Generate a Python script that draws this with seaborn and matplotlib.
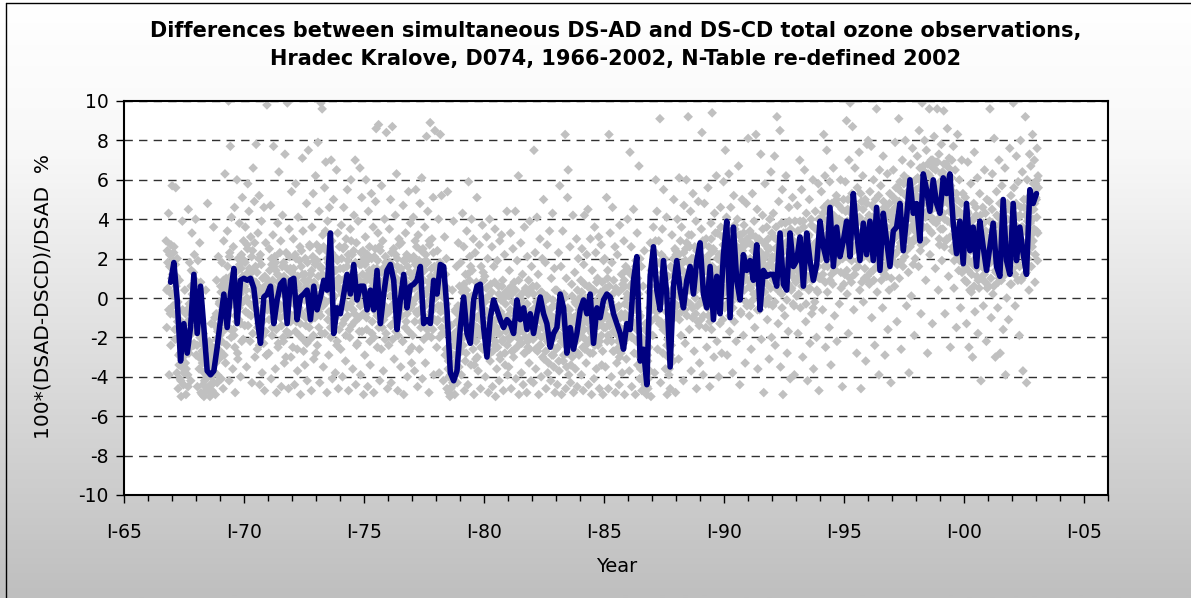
import numpy as np
import pandas as pd
import matplotlib
matplotlib.use("Agg")
import matplotlib.pyplot as plt
import seaborn as sns
from matplotlib.ticker import MultipleLocator
from matplotlib.colors import LinearSegmentedColormap
from matplotlib.lines import Line2D

# ------------------------------------------------------------------ texts
title_line1 = "Differences between simultaneous DS-AD and DS-CD total ozone observations,"
title_line2 = "Hradec Kralove, D074, 1966-2002, N-Table re-defined 2002"
x_label = "Year"
y_label = "100*(DSAD-DSCD)/DSAD  %"
x_tick_years = [1965, 1970, 1975, 1980, 1985, 1990, 1995, 2000, 2005]
x_tick_labels = ["I-65", "I-70", "I-75", "I-80", "I-85", "I-90", "I-95", "I-00", "I-05"]
y_ticks = [-10, -8, -6, -4, -2, 0, 2, 4, 6, 8, 10]

# ------------------------------------------------------------------ running mean (blue line)
line_start = 1966.94      # first sample (decimal year)
line_step = 0.13877       # sampling interval in years (~51 days)
line_vals = [
    0.8, 1.8, -0.1, -3.2, -1.3, -2.8, -1.5, 1.2, -1.8, 0.6,
    -1.5, -3.7, -3.9, -3.7, -2.5, -1.1, 0.2, -1.5, 0.2, 1.5,
    -1.3, 0.9, 1.0, 0.9, 1.0, 0.5, -1.0, -2.3, 0.05, 0.2,
    0.6, -1.3, -0.1, 0.7, 0.9, -1.3, 0.9, 1.0, -1.1, 0.05,
    0.2, 0.4, -1.1, 0.6, -0.6, 0.05, 0.9, 0.4, 3.3, -1.8,
    -0.5, -0.8, 0.2, 1.2, 0.2, 1.7, -0.1, 0.6, 0.6, -0.6,
    0.4, -0.6, 1.4, -1.3, 0.2, 1.4, 1.7, 0.9, -1.6, -0.1,
    1.2, -0.5, 0.6, 0.7, 0.9, 1.6, -1.3, -1.1, -1.3, 0.9,
    0.2, 1.7, 1.6, -0.6, -3.8, -4.2, -3.7, -1.5, 0.05, -1.8,
    -2.3, -0.1, 0.6, 0.7, -1.5, -3.0, -1.0, -0.1, -0.6, -1.1,
    -1.5, -1.1, -1.3, -1.8, -0.1, -1.1, -0.5, -1.6, -0.8, -1.8,
    -0.8, 0.05, -0.8, -1.3, -2.5, -1.8, -1.5, 0.2, -0.5, -2.8,
    -1.5, -2.6, -1.8, -0.6, -0.1, -0.8, 0.2, -2.3, -0.5, -1.0,
    -0.1, 0.2, 0.05, -0.8, -1.3, -1.8, -2.6, -1.3, -1.6, 0.9,
    2.1, -3.2, -2.6, -4.4, 1.1, 2.6, 0.4, -0.6, 1.9, 0.2,
    -3.5, 0.6, 1.9, 0.4, -0.5, 0.9, 1.6, 0.2, 1.9, 2.8,
    0.2, -0.5, 1.6, -1.1, 1.1, -0.8, 2.2, 3.9, -1.0, 3.6,
    0.9, -0.1, 2.2, 1.4, 1.9, 0.9, 2.7, -0.6, 1.4, 1.1,
    1.2, 1.2, 0.6, 3.3, 0.7, 0.4, 3.3, 1.6, 1.9, 3.1,
    0.6, 3.3, 1.9, 0.9, 1.7, 3.9, 2.6, 1.9, 4.6, 1.6,
    3.6, 2.1, 2.9, 3.9, 2.1, 5.3, 3.3, 1.9, 3.8, 2.2,
    3.9, 1.9, 4.6, 1.4, 4.3, 2.9, 1.6, 3.4, 3.6, 4.8,
    2.4, 4.1, 6.0, 4.3, 4.8, 2.9, 6.3, 5.5, 4.4, 6.0,
    4.8, 4.3, 6.1, 5.3, 6.3, 3.8, 2.25, 3.9, 1.74, 4.8,
    2.4, 3.6, 1.6, 3.9, 2.6, 1.4, 2.6, 3.8, 1.6, 1.1,
    5.0, 1.9, 1.2, 4.8, 1.9, 3.6, 2.25, 1.2, 5.5, 4.8,
    5.3,
]

# ------------------------------------------------------------------ individual observations (grey diamonds)
# first series of readings per observing period, in time order
obs_1966 = [2.9, -1.5, 2.4, 0.5, 4.3, -3.9, 1.6, -0.8, 2.7, 0.2]
obs_1967 = [5.7, 1.9, -0.8, 2.6, 0.3, -2.1, 5.6, 1.1,
            -3.8, -1.2, -4.6, -2.9, 0.9, -4.1, -2.2, -5.0, -3.5, 3.9,
            -1.4, -4.4, -2.6, 0.4, -3.3, -4.9, -1.9, -0.6, -3.9, 4.5,
            -2.8, 1.8, -0.3, -4.2, 1.4, 3.3, -1.6, 0.6, -2.4, 2.2, -0.9, 4.0]
obs_1968 = [-2.9, 0.8, -4.5, 1.9, -1.7, -3.6, 2.8, -0.4, -4.8, -2.3,
            -4.9, -3.1, -1.8, -5.0, -4.2, -2.6, 0.4, -4.7, -3.4, 4.8,
            -4.6, -3.9, -2.2, -5.0, -4.4, -1.3, -3.2, -4.8, -2.7, 3.6,
            -3.8, -1.0, -4.9, -2.5, 0.9, -4.3, -1.7, 2.1, -3.1, -0.2]
obs_1969 = [-2.7, 0.6, -4.1, 1.8, -1.2, -4.6, 2.9, -0.5, 6.3, -3.3,
            1.0, -2.4, 3.4, -0.9, 10.0, -4.2, 2.3, 7.7, -1.6, 4.1,
            0.2, -3.6, 2.6, -1.9, 4.6, -4.8, 1.3, -0.4, 6.0, -2.8,
            2.0, -1.1, 3.8, 0.7, -4.0, 1.5, -2.2, 5.1, -0.2, 2.9]
obs_1970 = [1.9, -1.4, 3.6, 0.4, -3.5, 2.7, 5.8, -0.8, 4.4, 1.2,
            -2.2, 3.1, 0.8, -4.3, 2.4, 6.6, -0.5, 4.9, -3.0, 1.6,
            7.8, 0.1, -2.6, 3.3, -1.3, 5.2, -4.4, 2.2, -0.7, 3.9,
            -3.8, 1.0, -1.9, 4.6, -4.7, 0.6, 2.8, -2.9, 9.8, -0.3]
obs_1971 = [0.9, -2.8, 2.5, -0.6, 4.7, -4.1, 1.7, -1.5, 3.2, 7.7,
            -0.2, 2.1, -3.6, 1.4, -4.8, 0.3, 3.8, -2.3, 6.4, 1.1,
            -1.0, 2.9, -4.5, 0.5, 4.2, -2.0, 1.8, -3.3, 7.3, -0.4,
            2.3, -1.7, 9.9, 0.8, -4.6, 3.5, -0.9, 1.5, -3.0, 5.4]
obs_1972 = [1.3, -2.5, 3.0, -0.3, -4.4, 2.2, 5.8, -1.2, 0.7, -3.7,
            4.1, 0.0, -1.9, 2.6, -4.9, 1.6, -0.8, 7.1, 3.4, -2.7,
            0.9, -3.4, 2.0, -1.4, 4.8, -4.2, 0.4, 7.5, -0.6, 2.7,
            -2.1, 1.2, -4.7, 3.6, -0.1, 5.3, -3.1, 1.9, -1.0, 6.2]
obs_1973 = [0.2, 2.7, -2.4, 7.9, -0.7, 4.4, -4.3, 1.6, 9.9, -1.8,
            9.6, 3.2, -3.5, 1.0, 5.6, -0.2, 6.9, 2.4, -4.8, 3.9,
            1.8, -2.9, 4.6, 0.3, -1.5, 7.0, 2.9, -4.1, 0.8, 5.0,
            -0.9, 2.1, -3.8, 1.4, 6.5, -2.2, 3.3, -4.6, 0.5, 2.6]
obs_1974 = [1.5, -2.6, 3.7, 0.2, -4.0, 2.5, 4.6, -1.1, 1.0, -3.2,
            3.0, -0.5, 5.5, 1.9, -4.7, 0.6, -2.0, 3.5, 6.0, -1.4,
            2.2, -3.6, 1.3, 4.2, -0.8, 7.0, -4.4, 2.8, 0.4, -2.3,
            3.9, 0.9, -1.7, 6.6, -3.9, 1.7, 5.1, -0.3, 2.4, -4.9]
obs_1975 = [0.8, -2.9, 3.1, 6.0, -1.0, 1.9, -4.5, 4.4, -0.2, 2.6,
            -3.4, 1.2, 5.3, -1.8, 0.3, 3.6, -4.8, 2.1, -0.6, 4.9,
            8.6, 1.5, -2.5, 3.3, 8.8, -0.4, -4.2, 2.4, 0.6, 5.7,
            -1.5, 2.9, -3.7, 0.9, 4.0, -2.1, 1.8, 8.4, -0.8, -4.6]
obs_1976 = [1.1, -2.4, 3.5, -0.5, 5.0, -4.3, 1.7, 8.7, -1.3, 2.5,
            -3.1, 0.4, 4.2, -1.7, 6.3, 2.0, -4.7, 0.9, 3.0, -0.8,
            1.4, -3.5, 2.8, 0.1, -2.2, 4.7, -4.9, 1.9, -0.4, 3.3,
            -1.2, 2.2, -4.0, 0.7, 5.4, -2.7, 1.3, 3.8, -0.1, -3.3]
obs_1977 = [2.0, -1.9, 4.1, 0.6, -3.7, 2.9, 5.5, -0.7, 1.4, -4.5,
            3.2, 0.2, -2.6, 4.8, 1.7, -1.2, 6.1, -4.1, 2.5, 0.9,
            -0.3, 3.6, -3.3, 1.9, 8.2, -1.6, 4.4, 0.5, -4.8, 2.7,
            8.9, 1.1, -2.0, 3.0, -0.6, 5.1, -3.9, 1.6, 8.5, 0.0]
obs_1978 = [0.3, -2.5, 2.4, -1.1, 4.0, -3.8, 1.2, 8.3, -0.4, 5.2,
            -1.8, 1.5, -4.2, 0.0, 3.1, -2.9, -0.7, 2.0, -4.6, 5.4,
            -3.6, -4.8, -2.7, -5.0, -3.9, -1.4, -4.5, 0.4, -4.1, 3.9,
            -2.4, -4.9, -0.6, -3.2, 1.6, -4.3, -1.7, 2.8, -3.5, 0.6]
obs_1979 = [-1.4, 1.8, -3.9, 0.5, 4.3, -2.4, 2.6, -4.7, -0.3, 1.2,
            -2.8, 3.4, 0.1, -4.4, 5.9, -1.6, 2.1, -0.8, -3.4, 4.0,
            1.4, -2.1, 3.0, -4.9, -0.4, 2.3, -3.1, 0.8, 5.1, -1.5,
            -3.7, 0.2, 2.7, -1.9, -4.6, 1.6, -0.6, 3.7, -2.6, 0.9]
obs_1980 = [-1.9, 1.1, -4.0, 0.0, 3.1, -2.7, 2.0, -4.8, -0.8, 4.0,
            -3.2, 0.7, -1.3, 2.6, -4.5, -0.2, 1.6, -2.4, 3.5, -5.0,
            -0.5, -3.6, 1.9, -1.8, 0.6, -4.2, 2.9, -2.9, -0.1, 3.2,
            -2.2, 0.9, -4.7, -1.1, 2.2, -3.4, 0.3, -1.6, 4.4, -3.9]
obs_1981 = [-0.9, -3.5, 1.4, -2.1, 3.3, -4.6, 0.2, -1.4, 2.5, -3.0,
            0.8, -2.6, 4.4, -4.1, -0.6, 1.9, -1.8, 6.2, -4.9, 0.1,
            -2.3, 2.8, -3.8, -0.3, 1.2, -4.4, -1.6, 3.6, -2.8, 0.5,
            -1.1, -4.8, 2.1, -2.5, 0.9, -3.3, 3.9, -0.7, -4.2, 1.6]
obs_1982 = [-2.0, 0.6, -4.3, 7.5, -1.2, 2.3, -3.6, -0.2, 4.1, -2.7,
            1.2, -4.9, -0.9, 3.0, -2.4, -4.0, 0.3, 2.0, -1.5, 5.0,
            -3.1, -0.5, 1.8, -4.6, -1.9, 2.7, -3.8, 0.0, -2.3, 3.4,
            -1.0, -4.2, 1.0, -2.9, 4.3, -0.4, -3.5, 1.5, -4.8, -1.7]
obs_1983 = [-2.6, 0.4, -4.4, -1.3, 2.3, -3.7, 5.7, -0.6, 1.6, -4.9,
            -2.0, 3.4, -3.2, 0.2, -1.6, 8.3, -4.6, 1.0, -2.8, 5.1,
            6.5, -3.9, -0.9, 2.6, -4.3, -1.9, 0.7, -3.0, 4.2, -4.8,
            -2.3, 1.3, -3.6, -0.3, 3.0, -4.5, -1.2, 2.0, -2.9, 0.0]
obs_1984 = [-1.8, 0.9, -3.9, 2.5, -0.7, -4.7, 1.7, 4.2, -2.6, 0.0,
            -3.3, 2.2, -1.2, 4.5, -4.4, 0.6, -2.1, 3.0, -0.3, -4.9,
            1.4, -2.8, 0.3, -4.1, 3.6, -1.5, 2.3, -3.6, -0.6, 1.0,
            -2.4, 3.1, -4.6, 0.1, -1.3, 2.7, -3.4, 0.8, -4.9, 1.9]
obs_1985 = [-0.9, 2.0, -3.5, 0.5, 5.1, -2.2, 1.4, -4.6, 8.3, -1.4,
            3.3, -0.2, -4.0, 1.8, 4.6, -2.7, 0.9, -1.7, 2.6, -4.8,
            -0.5, -3.3, 2.2, -1.9, 0.3, -4.4, 3.7, -1.0, -2.8, 1.2,
            -3.8, 0.7, -2.3, 2.9, -4.9, -0.8, 1.6, -3.1, 0.0, 4.0]
obs_1986 = [-1.3, 1.4, -3.7, 7.4, -0.4, 2.6, -4.5, -2.0, 0.5, 4.5,
            -2.8, 0.2, -4.9, 1.9, -1.6, 3.3, -3.4, -0.7, 6.7, -4.1,
            -0.9, -3.6, 1.6, -4.7, -2.2, 0.6, -3.0, 2.4, -4.4, -1.3,
            -4.0, -4.9, -2.9, -4.6, -1.8, 0.3, -3.7, 2.8, -5.0, -0.6]
obs_1987 = [1.2, -1.9, 3.6, 0.0, -3.8, 2.3, 6.0, -0.7, 4.4, -2.6,
            0.7, 2.9, -1.3, 9.1, -4.3, 1.7, -0.2, 3.5, -2.8, 5.5,
            -1.5, 2.0, -3.6, 0.4, 4.1, -4.9, -2.1, 1.1, -3.9, -0.8,
            -4.6, 1.6, -2.4, 3.2, 0.3, -3.2, 5.0, -1.0, 2.5, -4.8]
obs_1988 = [2.2, -0.8, 4.0, 1.0, -3.1, 6.1, 0.2, 2.9, -1.9, 3.6,
            -0.3, 1.8, -4.2, 4.7, 0.8, -2.3, 2.5, 6.0, -0.9, 1.3,
            9.2, 3.2, -1.6, 0.5, 4.4, -3.7, 2.0, -0.5, 5.3, 1.1,
            -2.7, 2.6, 0.0, 3.9, -4.6, 1.7, -1.2, 4.9, 0.6, -3.3]
obs_1989 = [1.9, -1.1, 3.5, 8.4, 0.4, -3.9, 2.7, 4.8, -0.3, 1.4,
            3.0, -2.5, 0.9, 5.6, -0.9, 2.2, -4.5, 1.6, 3.8, -1.6,
            9.4, 0.1, 2.5, -3.0, 4.3, 1.2, -0.6, 6.2, -2.2, 3.3,
            0.6, -4.0, 2.0, -1.3, 4.6, 1.0, -2.8, 3.1, 0.2, 5.9]
obs_1990 = [2.4, -0.5, 7.5, 1.3, 4.1, -2.9, 3.0, 0.3, 6.3, -1.7,
            1.9, 4.6, -0.2, 2.8, -3.8, 1.0, 5.2, -1.2, 3.5, 0.6,
            -2.2, 2.2, 4.0, 0.0, 6.7, 1.6, -4.4, 3.2, -0.8, 2.6,
            5.0, 0.8, -1.9, 3.7, 1.2, -3.3, 2.0, 4.8, -0.4, 1.5]
obs_1991 = [8.1, 1.8, -0.9, 3.4, 0.5, -2.6, 2.7, 5.3, -0.1, 1.1,
            3.9, -1.5, 2.3, 8.3, 0.2, 4.5, -3.6, 1.6, 3.0, -0.6,
            2.0, 7.3, -2.1, 0.9, 4.2, 1.4, -4.8, 2.8, 5.8, -0.3,
            1.2, 3.6, -1.1, 2.5, 0.0, -3.1, 4.0, 1.7, 6.4, -2.0]
obs_1992 = [2.1, -0.4, 4.3, 1.0, 7.2, -2.4, 3.0, 0.5, 9.2, 2.6,
            -1.3, 4.9, 1.5, 8.5, -3.5, 2.4, 0.2, 5.5, -4.9, 3.3,
            1.7, -0.9, 3.8, 6.2, 0.8, -2.8, 2.9, -1.7, 4.6, 1.2,
            -4.1, 3.5, 0.4, 2.2, 5.1, -0.3, 1.4, -3.9, 3.9, 0.9]
obs_1993 = [2.8, 0.1, 4.7, -1.8, 3.4, 1.3, 7.0, -0.5, 2.2, 5.5,
            1.0, -3.0, 3.9, 0.6, 6.5, 2.5, -1.2, 4.3, 1.8, -4.2,
            3.1, 0.4, 5.0, -2.3, 2.0, 4.0, -0.8, 1.5, 6.0, -3.6,
            2.7, -0.2, 4.4, 1.2, -2.0, 3.5, 0.3, 5.8, -4.7, 2.4]
obs_1994 = [3.5, 1.0, 5.4, 2.2, -0.6, 4.3, 8.3, 1.6, 6.2, -2.5,
            2.9, 7.5, 0.3, 4.8, 2.0, -1.5, 5.9, 3.2, -3.4, 1.2,
            4.1, 0.7, 6.6, 2.5, -0.9, 3.6, 1.4, 5.2, -2.2, 3.0,
            1.9, 4.7, -0.3, 2.7, 6.0, 0.5, 3.9, -4.5, 2.3, 5.0]
obs_1995 = [3.8, 1.2, 5.9, 2.6, 9.0, 0.2, 4.5, -1.8, 7.0, 2.0,
            9.9, 3.1, 0.8, 5.3, 8.7, 2.4, -0.6, 4.2, 6.6, 1.5,
            3.4, -2.8, 5.6, 1.9, 4.0, 7.4, 0.4, 2.9, -4.6, 4.9,
            2.2, 6.2, -0.2, 3.7, 1.0, 5.0, -3.2, 2.6, 7.8, 0.9]
obs_1996 = [8.0, 3.0, 0.7, 5.4, 2.1, 7.7, -1.0, 4.1, 1.4, 6.0,
            3.6, -2.4, 5.0, 2.5, 9.6, 0.3, 4.4, 1.8, -3.9, 6.5,
            2.8, 5.7, 0.9, 3.9, -0.5, 7.2, 2.2, 4.6, -2.9, 1.5,
            4.2, 1.1, 6.3, -1.6, 3.1, 0.4, 5.3, 2.4, -4.3, 3.6]
obs_1997 = [4.4, 1.9, 6.5, 3.0, 0.6, 7.9, 4.9, 2.3, -1.2, 5.6,
            3.5, 9.1, 1.0, 5.9, 2.8, -2.6, 4.6, 7.0, 1.6, 3.9,
            6.2, 2.1, 8.0, 4.3, -0.4, 3.3, 5.4, 1.3, -3.8, 4.8,
            2.6, 6.8, 0.1, 4.0, 7.6, 1.7, 5.1, -1.9, 3.4, 6.0]
obs_1998 = [5.5, 3.0, 7.2, 4.4, 1.6, 8.5, 6.0, 2.4, -0.8, 5.0,
            9.9, 4.1, 6.7, 2.9, 8.0, 5.3, 0.9, 7.5, 3.6, -2.8,
            6.3, 4.7, 9.6, 2.2, 5.8, 7.0, 3.3, -1.3, 6.6, 4.0,
            8.2, 5.1, 1.5, 6.9, 3.9, 9.6, 4.6, 0.4, 7.3, 2.7]
obs_1999 = [5.9, 3.5, 7.8, 1.9, 6.4, 4.3, 9.5, 2.6, -0.8, 5.2,
            6.8, 3.0, 8.6, 4.8, 1.1, 7.1, 5.6, -2.5, 3.8, 6.1,
            2.4, 5.4, 7.7, 0.5, 4.6, 6.5, 3.2, -1.5, 5.0, 8.3,
            3.7, 1.4, 6.0, 2.8, -0.5, 4.2, 7.0, 1.9, 5.3, 3.0]
obs_2000 = [3.2, 0.9, 5.1, 2.0, -1.3, 4.4, 6.9, 1.4, -2.5, 3.6,
            2.5, 5.8, 0.3, 3.9, -3.0, 1.7, 4.8, 7.4, -0.7, 2.9,
            4.2, 1.1, 6.1, -1.8, 3.0, 0.5, 5.3, 2.2, -4.2, 3.7,
            1.6, 4.6, -0.4, 2.7, 6.5, 0.8, 3.4, -2.2, 5.0, 2.1]
obs_2001 = [2.9, 0.6, 4.9, 9.6, 1.8, -1.0, 3.8, 6.3, 0.2, 2.4,
            8.1, 3.3, -3.0, 1.3, 5.4, 2.6, -0.5, 4.1, 7.0, 1.0,
            -2.8, 3.6, 0.9, 5.7, 2.0, -1.6, 4.4, 1.5, 6.6, -3.9,
            2.7, 0.0, 4.8, 1.9, -1.1, 3.5, 7.6, 0.7, 5.2, 2.3]
obs_2002 = [3.9, 1.5, 9.9, 5.6, 2.5, -0.4, 4.7, 7.2, 1.8, 3.1,
            5.9, 2.2, -1.9, 4.2, 8.0, 0.9, 3.6, 6.4, -3.7, 2.8,
            4.6, 1.2, 9.2, 3.4, -4.3, 6.0, 2.0, 5.1, 0.4, 7.3,
            3.8, 6.7, 1.6, 5.3, 8.3, 2.9, 4.5, 7.0, 0.8, 5.8]
obs_2003 = [5.5, 3.4, 7.6, 1.9, 6.2]

# second series of readings (the dense core of the cloud), in time order
core_1966 = [0.4, 1.8, -0.6, 2.2, -2.4, 1.0]
core_1967 = [1.2, -0.4, 2.3, 0.1, -1.6, 1.7, 0.6, -0.9, 2.0, -0.2,
             -2.0, -3.4, -1.1, -2.8, -4.2, -1.8, -3.0, -0.6, -2.5, -3.8,
             -1.6, -2.9, -0.8, -3.6, -2.2, -1.2, -4.5, -2.6, -0.3, -1.9,
             -0.7, 0.6, -1.8, 0.2, -1.1, 1.3, -2.3, -0.4, 0.9, -1.5]
core_1968 = [-1.2, -2.4, 0.2, -1.7, -3.0, -0.5, -2.0, 0.8, -1.4, -2.7,
             -3.3, -4.4, -2.7, -3.8, -4.8, -3.0, -4.1, -2.4, -3.6, -4.6,
             -3.9, -3.2, -4.5, -2.9, -4.0, -3.5, -4.7, -2.5, -3.7, -4.3,
             -2.6, -1.4, -3.3, -0.8, -2.1, -3.9, -1.6, -2.9, -0.3, -1.9]
core_1969 = [-1.0, 0.3, -2.2, -0.6, -1.7, 0.9, -2.9, -0.2, -1.3, 0.5,
             0.7, -0.8, 1.6, -1.5, 0.2, 2.1, -0.4, 1.1, -2.0, 0.9,
             -0.3, 1.0, -1.6, 0.4, -2.5, -0.9, 1.4, -1.2, 0.1, -3.1,
             0.8, -0.5, 1.7, 0.2, -1.3, 2.2, -0.2, 1.1, -2.1, 0.5]
core_1970 = [0.6, 1.8, -0.7, 1.2, 0.0, 2.5, -1.4, 0.9, 1.5, -0.3,
             1.0, -0.9, 2.1, 0.4, -1.8, 1.4, 0.1, 2.8, -0.5, 0.8,
             -0.2, 1.3, -1.5, 0.6, 2.0, -2.4, 0.3, -0.8, 1.7, -1.1,
             -1.2, 0.5, -2.3, -0.4, 1.1, -1.7, 0.2, -2.9, -0.6, 0.9]
core_1971 = [0.2, -1.1, 1.4, 0.7, -0.4, 2.0, -1.9, 0.9, -0.1, 1.6,
             0.5, -0.8, 1.8, -1.6, 0.1, 1.2, -2.5, 0.8, -0.3, 2.3,
             -0.6, 0.9, -1.4, 1.6, 0.2, -2.2, 1.1, -0.9, 0.6, -3.0,
             0.4, 1.5, -0.7, 0.9, -1.8, 2.1, 0.0, -1.2, 1.3, -0.2]
core_1972 = [0.3, -0.9, 1.5, -0.2, 0.9, -1.7, 2.0, 0.1, -2.6, 1.1,
             0.7, -0.5, 1.9, -1.3, 0.4, 2.4, -0.8, 1.2, -2.1, 0.0,
             -0.1, 1.2, -1.0, 0.6, -2.3, 1.8, -0.6, 0.9, -1.5, 2.6,
             0.5, -1.1, 1.4, -0.3, 2.1, -1.9, 0.8, -0.7, 1.7, -2.8]
core_1973 = [0.6, 1.9, -0.6, 1.1, -1.5, 2.4, 0.2, -0.9, 1.5, 0.0,
             1.2, -0.4, 2.6, 0.5, -1.8, 3.4, 1.0, -0.2, 2.0, -1.1,
             0.8, -0.7, 1.7, 0.3, -2.0, 2.3, -0.1, 1.3, -1.3, 0.6,
             0.1, 1.4, -1.0, 0.7, -2.4, 1.9, -0.5, 1.0, -1.6, 0.4]
core_1974 = [0.9, -0.5, 2.0, 0.3, -1.3, 1.5, -0.2, 2.6, 0.6, -1.9,
             0.2, 1.6, -0.9, 2.2, 0.7, -1.6, 1.1, -0.3, 2.9, 0.4,
             1.3, -0.6, 2.4, 0.0, -1.2, 1.8, 0.5, -2.4, 1.0, -0.1,
             0.8, -1.0, 1.7, -0.4, 2.3, 0.2, -1.7, 1.2, -0.8, 2.0]
core_1975 = [0.4, 1.7, -0.8, 1.1, -1.6, 2.2, 0.0, -0.5, 1.4, -2.2,
             0.9, -0.3, 2.0, -1.2, 0.6, 1.5, -2.0, 0.2, 2.5, -0.7,
             1.0, -0.9, 1.9, 0.3, -1.5, 2.6, -0.2, 0.8, -2.6, 1.3,
             0.2, 1.5, -1.1, 0.7, -0.4, 2.1, -1.8, 1.0, -0.6, 0.5]
core_1976 = [0.6, -0.7, 1.8, 0.1, -1.4, 2.3, 0.9, -2.1, 1.3, -0.3,
             1.1, -0.2, 2.2, -1.0, 0.5, 1.6, -1.9, 0.0, 2.7, -0.6,
             0.3, 1.5, -0.9, 0.8, -2.2, 1.9, -0.4, 1.0, -1.5, 0.4,
             0.7, -0.8, 1.6, 0.0, -1.7, 2.0, 0.4, -0.5, 1.2, -2.5]
core_1977 = [1.0, -0.3, 2.1, 0.5, -1.2, 1.7, 0.0, 2.6, -0.8, 1.3,
             0.6, 1.9, -0.6, 1.2, -1.5, 2.4, 0.3, -0.2, 1.6, -2.1,
             1.4, -0.4, 2.2, 0.2, -1.0, 1.8, -1.9, 0.8, 2.9, -0.1,
             0.9, -0.7, 1.5, 0.4, -1.6, 2.3, 0.1, -1.1, 1.1, 0.6]
core_1978 = [0.1, -1.2, 1.3, -0.4, 0.8, -2.0, 1.8, -0.7, 0.4, -1.5,
             -0.6, 0.7, -1.8, 0.2, -1.1, 1.2, -2.6, -0.3, 0.5, -1.4,
             -3.2, -4.0, -2.5, -3.7, -4.6, -2.9, -3.4, -4.3, -2.0, -3.8,
             -1.8, -2.9, -0.7, -2.2, -1.2, -3.5, -0.4, -1.6, -2.6, -0.9]
core_1979 = [-1.6, -0.4, -2.7, 0.3, -1.1, -2.0, 0.7, -0.8, -3.2, -0.1,
             0.4, -1.0, 1.2, -0.3, -1.8, 0.9, -0.6, 1.6, -2.2, 0.1,
             -1.3, -2.6, -0.5, -3.4, -1.8, 0.2, -2.2, -1.0, -3.0, -0.3,
             -0.9, 0.4, -1.6, -0.2, -2.5, 0.8, -1.2, -0.5, 1.3, -1.9]
core_1980 = [-1.3, -0.2, -2.4, 0.5, -1.7, -0.7, -2.9, 0.1, -1.0, -2.0,
             -0.8, -1.9, 0.3, -1.3, -2.7, -0.4, -1.6, 0.8, -2.2, -1.1,
             -1.5, -0.5, -2.5, -1.0, 0.2, -1.8, -3.1, -0.7, -1.2, 0.6,
             -0.9, -2.1, 0.0, -1.4, -2.8, -0.3, -1.7, -1.0, -2.4, 0.4]
core_1981 = [-1.1, 0.1, -2.0, -0.6, -1.6, 0.6, -2.7, -1.3, -0.2, -1.9,
             -0.7, -1.8, 0.4, -1.2, -2.5, -0.3, -1.5, 0.9, -2.1, -0.9,
             -1.4, -0.1, -2.3, -0.8, -1.7, 0.3, -2.8, -1.0, -0.4, -2.0,
             -1.2, -0.3, -2.2, 0.2, -1.5, -2.6, -0.7, -1.9, 0.5, -1.1]
core_1982 = [-1.0, -2.1, 0.2, -1.5, -0.5, -2.6, -1.2, 0.6, -1.8, -0.8,
             -1.6, -0.4, -2.4, -1.1, 0.3, -2.0, -0.9, -3.0, -1.3, -0.2,
             -1.9, -0.6, -2.7, -1.2, 0.1, -2.2, -1.5, -3.3, -0.8, -1.7,
             -1.3, -2.4, -0.5, -1.8, -0.1, -2.9, -1.0, -2.0, 0.4, -1.4]
core_1983 = [-1.5, -0.4, -2.5, -1.0, -3.2, -0.7, -1.9, 0.2, -2.2, -1.2,
             -2.0, -0.8, -2.9, -1.4, 0.0, -2.4, -1.1, -3.5, -1.7, -0.5,
             -1.8, -2.8, -0.6, -1.3, -3.4, -2.1, 0.1, -1.6, -2.6, -1.0,
             -1.2, -0.2, -2.2, -0.9, -1.8, 0.4, -2.8, -1.4, -0.6, -2.0]
core_1984 = [-0.8, -1.9, 0.3, -1.3, -2.5, -0.4, -1.6, 0.7, -2.1, -1.0,
             -1.2, -0.1, -2.3, -0.7, -1.6, 0.5, -2.8, -1.0, -0.3, -1.8,
             -0.6, -1.7, 0.4, -1.1, -2.4, -0.2, -1.4, 0.8, -2.0, -0.9,
             -1.4, -0.3, -2.2, -0.8, 0.3, -1.9, -1.1, -2.7, -0.5, -1.5]
core_1985 = [-0.6, 0.4, -1.5, 0.1, -0.9, 1.0, -1.9, -0.2, 0.6, -1.2,
             -1.3, -0.4, -2.2, -0.9, 0.2, -1.7, -2.7, -0.6, -1.4, 0.5,
             -1.8, -2.6, -1.0, -2.2, -0.4, -3.0, -1.5, -2.0, -0.8, -2.5,
             -0.9, 0.5, -1.6, 0.9, -0.3, -2.1, 1.4, -1.1, 0.2, -1.8]
core_1986 = [-0.4, -1.5, 0.6, -0.9, 1.2, -2.0, 0.1, -1.2, 0.8, -0.6,
             0.5, -1.3, 1.6, -2.2, -0.3, 1.0, -2.9, 0.2, -1.0, 2.0,
             -2.7, -3.6, -2.0, -3.1, -4.2, -2.4, -3.4, -1.6, -3.9, -2.8,
             -3.9, -4.5, -3.2, -4.1, -2.5, -0.5, 0.6, -1.2, 1.4, -0.2]
core_1987 = [1.5, 0.2, 2.4, -0.5, 1.0, 2.9, -1.0, 0.6, 1.8, -0.2,
             0.9, -0.6, 1.8, 0.3, -1.2, 2.2, -0.1, 1.3, -1.6, 0.6,
             0.2, -1.4, 1.0, -0.7, -2.4, -1.8, -3.0, -1.1, -3.6, -2.2,
             -2.9, -1.0, 0.4, 1.5, -0.5, 2.0, 0.8, 1.2, -0.3, 2.4]
core_1988 = [0.6, -0.4, 1.5, 0.1, 2.2, -1.1, 0.9, 1.7, -0.7, 0.3,
             1.4, 0.2, 2.3, 1.0, -0.6, 1.9, 0.5, 2.8, -0.2, 1.2,
             1.8, 0.4, 2.6, -0.3, 1.1, 3.2, 0.7, -1.0, 2.0, 1.5,
             0.3, 1.6, -0.8, 1.0, 2.4, -0.4, 0.6, 1.9, -1.4, 0.9]
core_1989 = [1.2, -0.2, 2.1, 0.5, 2.9, -0.9, 1.5, 0.0, 1.8, -1.5,
             0.7, 1.9, -0.5, 1.3, 2.6, 0.2, -1.2, 1.0, 3.0, 0.4,
             1.6, 0.1, 2.4, -0.7, 1.1, 3.3, 0.6, -0.1, 2.0, 1.4,
             0.9, 2.2, -0.4, 1.5, 3.6, 0.3, 1.8, -1.1, 2.7, 1.0]
core_1990 = [1.8, 0.5, 2.7, 1.1, -0.3, 2.3, 3.4, 0.8, 1.5, -0.9,
             2.1, 0.9, 3.0, 1.4, -0.5, 2.5, 0.2, 3.7, 1.2, 2.0,
             1.3, 2.6, 0.0, 1.9, 3.2, 0.7, 2.2, -0.7, 1.6, 2.9,
             2.4, 1.0, 3.3, 0.4, 1.8, 2.7, -0.2, 1.4, 3.0, 0.9]
core_1991 = [1.4, 2.8, 0.6, 2.0, -0.4, 1.7, 3.2, 1.0, 2.4, 0.2,
             1.9, 0.8, 3.1, 1.3, 2.5, -0.6, 1.6, 2.9, 0.4, 2.1,
             1.1, 2.3, -0.1, 1.8, 3.5, 0.9, 2.0, 0.3, 2.7, 1.5,
             2.2, 0.7, 1.6, 3.0, -0.3, 1.2, 2.5, 0.5, 1.9, 3.3]
core_1992 = [2.0, 0.9, 3.1, 1.5, -0.2, 2.5, 3.6, 1.1, 2.2, 0.4,
             1.7, 3.0, 0.6, 2.3, 1.2, 3.8, -0.5, 1.9, 2.7, 0.9,
             2.4, 1.0, 3.3, 1.6, -0.1, 2.8, 0.7, 2.0, 3.9, 1.3,
             1.8, 3.2, 0.5, 2.1, 1.1, 2.9, -0.4, 1.5, 2.5, 0.8]
core_1993 = [2.3, 1.0, 3.4, 1.7, 0.2, 2.8, 3.9, 1.3, 2.0, 0.6,
             2.6, 1.4, 3.6, 0.8, 2.1, 3.0, -0.3, 1.8, 2.9, 1.1,
             1.9, 3.2, 0.5, 2.4, 1.5, 3.7, 0.9, 2.2, -0.5, 2.7,
             2.5, 1.2, 3.5, 2.0, 0.4, 2.9, 1.6, 4.0, 1.0, 2.3]
core_1994 = [3.2, 2.0, 4.1, 2.6, 1.2, 3.6, 4.6, 2.3, 0.8, 3.0,
             2.7, 3.9, 1.6, 3.3, 4.4, 2.2, 0.9, 3.5, 2.5, 4.8,
             3.4, 2.1, 4.2, 1.4, 3.0, 3.8, 2.4, 5.0, 1.8, 2.9,
             3.1, 4.0, 2.3, 3.6, 1.3, 2.8, 4.5, 2.0, 3.3, 0.7]
core_1995 = [3.5, 2.2, 4.4, 2.9, 1.4, 3.9, 5.0, 2.6, 3.2, 1.0,
             3.0, 4.3, 1.9, 3.6, 4.9, 2.4, 3.3, 1.2, 4.0, 2.7,
             3.8, 2.5, 4.6, 1.6, 3.2, 4.1, 2.0, 5.3, 2.9, 0.8,
             3.4, 4.5, 2.1, 3.0, 1.5, 3.9, 2.6, 4.8, 1.1, 3.3]
core_1996 = [3.1, 4.2, 2.0, 3.6, 1.3, 2.8, 4.7, 2.4, 3.9, 0.9,
             3.7, 2.3, 4.5, 3.0, 1.6, 4.0, 2.7, 5.2, 1.9, 3.4,
             2.9, 4.3, 1.7, 3.5, 2.4, 4.9, 1.2, 3.1, 2.1, 4.1,
             3.6, 2.5, 4.4, 1.8, 3.2, 4.8, 2.2, 3.0, 1.0, 3.9]
core_1997 = [4.2, 3.0, 5.1, 3.6, 2.2, 4.6, 5.6, 3.3, 1.7, 4.0,
             3.7, 4.9, 2.6, 4.3, 5.4, 3.1, 1.9, 4.5, 3.4, 5.8,
             4.4, 3.2, 5.2, 2.4, 4.0, 4.8, 3.5, 6.0, 2.9, 4.1,
             4.7, 3.6, 5.5, 2.8, 4.2, 5.9, 3.0, 4.5, 2.0, 3.8]
core_1998 = [5.2, 4.0, 6.1, 4.6, 3.2, 5.6, 6.6, 4.3, 2.7, 5.0,
             4.8, 5.9, 3.6, 5.3, 6.4, 4.1, 2.9, 5.5, 4.4, 6.8,
             5.4, 4.2, 6.2, 3.4, 5.0, 5.8, 4.5, 7.0, 3.9, 5.1,
             5.7, 4.6, 6.5, 3.8, 5.2, 6.9, 4.0, 5.5, 3.0, 4.8]
core_1999 = [5.4, 4.3, 6.3, 4.8, 3.5, 5.8, 6.8, 4.0, 5.1, 2.9,
             5.0, 6.1, 3.9, 5.5, 6.6, 4.4, 3.1, 5.7, 4.7, 7.0,
             3.8, 2.6, 4.6, 1.9, 3.4, 4.2, 2.8, 5.3, 2.2, 3.6,
             3.2, 4.4, 1.9, 3.7, 2.5, 4.8, 1.3, 3.0, 2.2, 4.1]
core_2000 = [2.8, 1.6, 3.7, 2.1, 0.8, 3.2, 4.3, 1.9, 2.5, 0.4,
             2.4, 3.5, 1.2, 2.9, 4.0, 1.7, 0.6, 3.1, 2.0, 4.6,
             2.7, 1.5, 3.6, 0.9, 2.3, 3.2, 1.8, 4.2, 1.0, 2.6,
             2.9, 1.9, 3.8, 1.2, 2.5, 4.3, 1.4, 3.1, 0.5, 2.2]
core_2001 = [3.0, 1.8, 3.9, 2.3, 1.0, 3.4, 4.5, 2.1, 2.7, 0.6,
             2.6, 3.7, 1.4, 3.1, 4.2, 1.9, 0.8, 3.3, 2.2, 4.8,
             2.9, 1.7, 3.8, 1.1, 2.5, 3.4, 2.0, 4.4, 1.2, 2.8,
             3.1, 2.1, 4.0, 1.4, 2.7, 4.5, 1.6, 3.3, 0.7, 2.4]
core_2002 = [3.2, 2.1, 4.3, 2.7, 1.2, 3.7, 4.8, 2.4, 3.0, 0.9,
             2.9, 4.1, 1.6, 3.4, 4.6, 2.2, 1.0, 3.6, 2.5, 5.0,
             3.4, 2.0, 4.2, 1.3, 2.8, 3.9, 2.3, 4.9, 1.6, 3.1,
             4.4, 3.2, 5.3, 2.6, 4.0, 5.8, 3.5, 4.8, 2.2, 5.1]
core_2003 = [5.0, 4.1, 6.0, 3.3, 5.6]

period_starts = [1966.75] + list(range(1967, 2003)) + [2003.0]
period_ends = [1967.0] + list(range(1968, 2004)) + [2003.1]
obs_sets = [obs_1966, obs_1967, obs_1968, obs_1969, obs_1970, obs_1971, obs_1972,
            obs_1973, obs_1974, obs_1975, obs_1976, obs_1977, obs_1978, obs_1979,
            obs_1980, obs_1981, obs_1982, obs_1983, obs_1984, obs_1985, obs_1986,
            obs_1987, obs_1988, obs_1989, obs_1990, obs_1991, obs_1992, obs_1993,
            obs_1994, obs_1995, obs_1996, obs_1997, obs_1998, obs_1999, obs_2000,
            obs_2001, obs_2002, obs_2003]
core_sets = [core_1966, core_1967, core_1968, core_1969, core_1970, core_1971, core_1972,
             core_1973, core_1974, core_1975, core_1976, core_1977, core_1978, core_1979,
             core_1980, core_1981, core_1982, core_1983, core_1984, core_1985, core_1986,
             core_1987, core_1988, core_1989, core_1990, core_1991, core_1992, core_1993,
             core_1994, core_1995, core_1996, core_1997, core_1998, core_1999, core_2000,
             core_2001, core_2002, core_2003]

# ------------------------------------------------------------------ tables
rows = []
for sets, phase in ((obs_sets, 0.25), (core_sets, 0.75)):
    for t0, t1, vals in zip(period_starts, period_ends, sets):
        n = len(vals)
        for k, v in enumerate(vals):
            rows.append((t0 + (k + phase) / n * (t1 - t0), v))
obs_df = pd.DataFrame(rows, columns=["year", "diff"])
line_df = pd.DataFrame({"year": line_start + line_step * np.arange(len(line_vals)),
                        "diff": line_vals})

# ------------------------------------------------------------------ figure
sns.set_theme(style="white")
plt.rcParams["font.family"] = ["DejaVu Sans"]
plt.rcParams["text.color"] = "black"
plt.rcParams["axes.labelcolor"] = "black"
plt.rcParams["xtick.color"] = "black"
plt.rcParams["ytick.color"] = "black"

W, H = 1191, 598
fig = plt.figure(figsize=(W / 100, H / 100), dpi=100)

# gradient background of the chart area
bg = fig.add_axes([0, 0, 1, 1], zorder=-10)
grad = np.linspace(0, 1, 300).reshape(-1, 1)
cmap = LinearSegmentedColormap.from_list("bg", [(0, "#ffffff"), (0.25, "#f8f8f8"), (1, "#bfbfbf")])
bg.imshow(grad, aspect="auto", cmap=cmap, extent=[0, 1, 0, 1], origin="upper")
bg.set_axis_off()
fig.add_artist(Line2D([6 / W, 1], [1 - 3 / H, 1 - 3 / H], transform=fig.transFigure, color="black", lw=1))
fig.add_artist(Line2D([6 / W, 6 / W], [0, 1 - 3 / H], transform=fig.transFigure, color="black", lw=1))

ax = fig.add_axes([124 / W, 1 - 495 / H, (1108 - 124) / W, (495 - 101) / H])
ax.set_facecolor("white")

sns.scatterplot(data=obs_df, x="year", y="diff", marker="D", s=24, color="#c0c0c0",
                edgecolor="none", linewidth=0, ax=ax, zorder=2)
sns.lineplot(data=line_df, x="year", y="diff", color="#000080", lw=4,
             estimator=None, sort=False, ax=ax, zorder=3)

ax.set_xlim(1965, 2006)
ax.set_ylim(-10, 10)
ax.set_xticks(x_tick_years)
ax.set_xticklabels(x_tick_labels)
ax.xaxis.set_minor_locator(MultipleLocator(1))
ax.set_yticks(y_ticks)
ax.set_yticklabels([str(v) for v in y_ticks])
ax.tick_params(axis="both", which="major", direction="out", length=6, width=1,
               color="black", labelsize=13.5, labelcolor="black", pad=5,
               bottom=True, left=True)
ax.tick_params(axis="x", which="minor", direction="out", length=4, width=1,
               color="black", bottom=True)
ax.tick_params(axis="x", which="major", pad=14)

ax.yaxis.grid(True, color="#303030", linestyle=(0, (6, 4.5)), lw=1)
ax.xaxis.grid(False)
ax.set_axisbelow(True)
for side in ["left", "bottom", "right", "top"]:
    ax.spines[side].set_visible(True)
    ax.spines[side].set_color("black")
    ax.spines[side].set_linewidth(1.5)

ax.set_xlabel(x_label, fontsize=14, color="black")
ax.xaxis.set_label_coords((617 - 124) / 984, (495 - 557) / 394)
ax.set_ylabel(y_label, fontsize=14.5, color="black")
ax.yaxis.set_label_coords((53 - 124) / 984, 0.505)

cx = (124 + 1108) / 2 / W
fig.text(cx, 1 - 31 / H, title_line1, ha="center", va="center", fontsize=15,
         fontweight="bold", color="black")
fig.text(cx, 1 - 59 / H, title_line2, ha="center", va="center", fontsize=15,
         fontweight="bold", color="black")

fig.savefig("out.png", dpi=100)
